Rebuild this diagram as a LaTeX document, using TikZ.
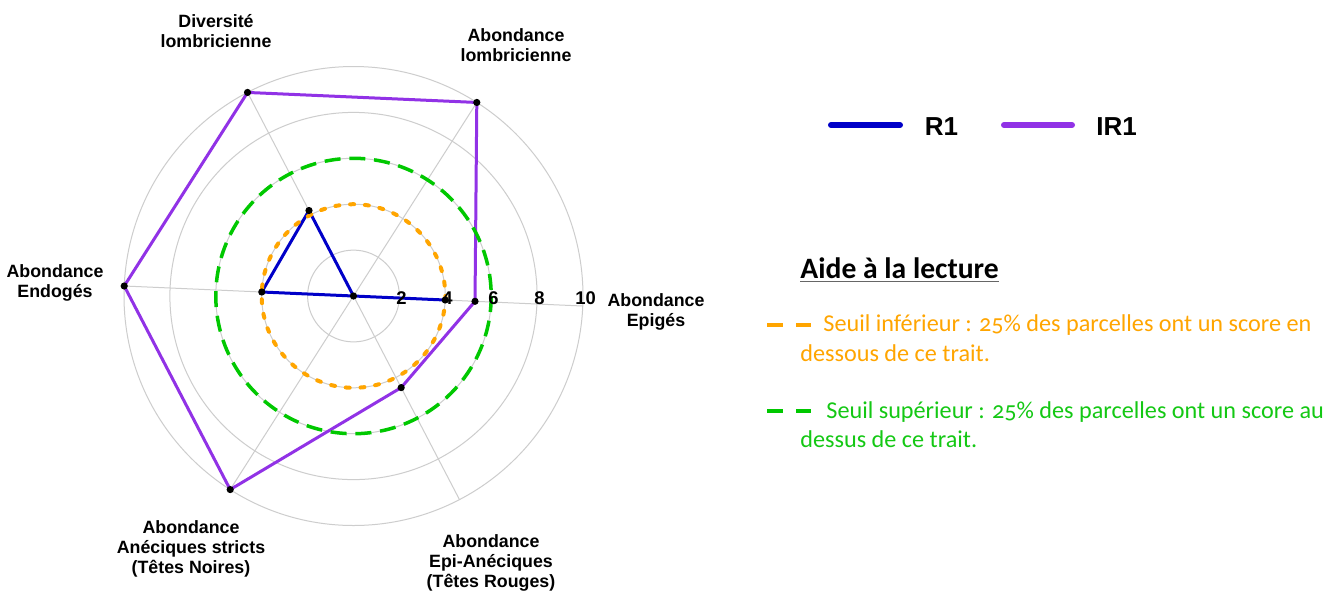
\documentclass[tikz,border=0pt]{standalone}
\usepackage{fontspec}
\setmainfont{Liberation Sans}
\newfontfamily\calib{Carlito}[Numbers=OldStyle]
\definecolor{rblue}{RGB}{0,0,200}
\definecolor{rpurple}{RGB}{145,50,230}
\definecolor{rorange}{RGB}{255,165,0}
\definecolor{rgreen}{RGB}{0,200,0}
\definecolor{tgreen}{RGB}{20,200,20}
\definecolor{rgrid}{RGB}{205,205,205}
\tikzset{
  gridline/.style={draw=rgrid, line width=0.5pt},
  serieR/.style={draw=rblue, line width=1.5pt, line join=round},
  serieIR/.style={draw=rpurple, line width=1.5pt, line join=round},
  lowthr/.style={draw=rorange, line width=2pt, line cap=round, dash pattern=on 2pt off 5.4pt},
  highthr/.style={draw=rgreen, line width=1.75pt, dash pattern=on 8pt off 4.4pt},
  dot/.style={circle, fill=black, inner sep=0pt, minimum size=3.6pt},
  axlabel/.style={font=\bfseries\fontsize{8.9}{10}\selectfont, align=center, inner sep=0pt},
  ticklabel/.style={font=\bfseries\fontsize{9.2}{10}\selectfont, inner sep=0pt},
  legtext/.style={font=\bfseries\fontsize{13}{15}\selectfont, inner sep=0pt},
  legline/.style={line width=3pt, line cap=round},
  legdash/.style={line width=2pt},
  helptext/.style={font=\calib\fontsize{12.1}{15}\selectfont, anchor=base west, inner sep=0pt}
}
\begin{document}
\begin{tikzpicture}[x=0.5pt,y=-0.5pt]
\useasboundingbox (0,0) rectangle (1329,591);
\fill[white] (0,0) rectangle (1329,591);
\def\u{22.95}
\begin{scope}[shift={(353.5,296)}]
  % grid
  \coordinate (c) at (0,0);
  \foreach \r in {2,4,6,8,10} \draw[gridline] (c) circle[radius=\r*\u];
  \coordinate (ax0) at (2.5:10*\u);
  \coordinate (ax1) at (-57.5:10*\u);
  \coordinate (ax2) at (-117.5:10*\u);
  \coordinate (ax3) at (-177.5:10*\u);
  \coordinate (ax4) at (-237.5:10*\u);
  \coordinate (ax5) at (-297.5:10*\u);
  \foreach \k in {0,...,5} \draw[gridline] (c) -- (ax\k);
  % data points
  \coordinate (p0) at (2.5:5.3*\u);
  \coordinate (p1) at (-57.5:10*\u);
  \coordinate (p2) at (-117.5:10*\u);
  \coordinate (p3) at (-177.5:10*\u);
  \coordinate (p4) at (-237.5:10*\u);
  \coordinate (p5) at (-297.5:4.5*\u);
  \coordinate (b0) at (2.5:4*\u);
  \coordinate (b2) at (-117.5:4.2*\u);
  \coordinate (b3) at (-177.5:4*\u);
  \draw[serieIR] (p0) -- (p1) -- (p2) -- (p3) -- (p4) -- (p5) -- cycle;
  \draw[serieR] (b0) -- (c) -- (b2) -- (b3) -- (c) -- cycle;
  % thresholds
  \draw[lowthr] (c) circle[radius=4*\u];
  \draw[highthr] (c) circle[radius=6*\u];
  % dots
  \foreach \n in {p0,p1,p2,p3,p4,p5,b0,b2,b3,c} \node[dot] (d\n) at (\n) {};
\end{scope}
% tick labels
\node[ticklabel] (t2) at (401.5,298) {2};
\node[ticklabel] (t4) at (447.5,298) {4};
\node[ticklabel] (t6) at (493.5,298) {6};
\node[ticklabel] (t8) at (539.5,298) {8};
\node[ticklabel] (t10) at (585.5,298) {10};
% axis labels
\node[axlabel] (lDiv) at (216,31.5) {Diversité\\lombricienne};
\node[axlabel] (lLomb) at (516,45) {Abondance\\lombricienne};
\node[axlabel] (lEndo) at (55,283) {Abondance\\Endogés};
\node[axlabel] (lEpi) at (656,312) {Abondance\\Epigés};
\node[axlabel] (lAnec) at (191,549) {Abondance\\Anéciques stricts\\(Têtes Noires)};
\node[axlabel] (lEpiA) at (491,563) {Abondance\\Epi-Anéciques\\(Têtes Rouges)};
% legend
\coordinate (lr1a) at (831,125);
\coordinate (lr1b) at (900,125);
\coordinate (lir1a) at (1004,125);
\coordinate (lir1b) at (1072,125);
\draw[legline, rblue] (lr1a) -- (lr1b);
\draw[legline, rpurple] (lir1a) -- (lir1b);
\node[legtext] (tR1) at (941.5,127) {R1};
\node[legtext] (tIR1) at (1116.5,127) {IR1};
% reading help
\node[font=\calib\bfseries\fontsize{14.8}{17}\selectfont, anchor=base west, inner sep=0pt] (aide) at (800,278) {Aide à la lecture};
\draw[black!60, line width=0.6pt] ([yshift=-1.6pt]aide.base west) -- ([yshift=-1.6pt]aide.base east);
\coordinate (oa1) at (767,325); \coordinate (oa2) at (783,325);
\coordinate (ob1) at (796,325); \coordinate (ob2) at (811,325);
\draw[legdash, rorange] (oa1) -- (oa2);
\draw[legdash, rorange] (ob1) -- (ob2);
\node[helptext, text=rorange] (low1) at (823,331) {Seuil inférieur : 25\% des parcelles ont un score en};
\node[helptext, text=rorange] (low2) at (800,361) {dessous de ce trait.};
\coordinate (ga1) at (767,411); \coordinate (ga2) at (783,411);
\coordinate (gb1) at (796,411); \coordinate (gb2) at (811,411);
\draw[legdash, rgreen] (ga1) -- (ga2);
\draw[legdash, rgreen] (gb1) -- (gb2);
\node[helptext, text=tgreen] (high1) at (826,418) {Seuil supérieur : 25\% des parcelles ont un score au};
\node[helptext, text=tgreen] (high2) at (800,447) {dessus de ce trait.};
\end{tikzpicture}
\end{document}
